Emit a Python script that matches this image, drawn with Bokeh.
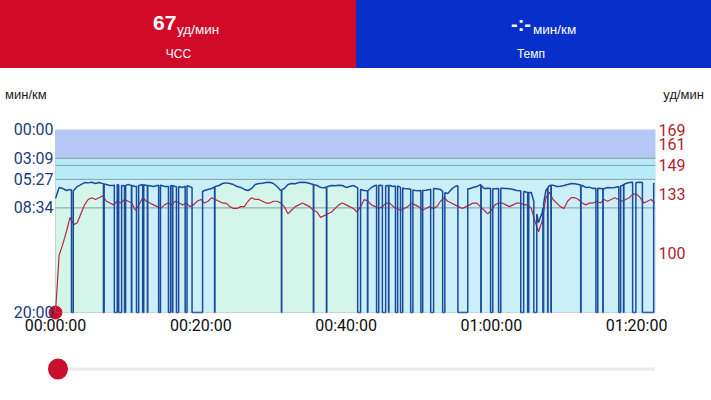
import numpy as np
from bokeh.plotting import figure
from bokeh.models import Range1d, LinearAxis, FixedTicker, BoxAnnotation, Div
from bokeh.layouts import column
from bokeh.embed import file_html
from bokeh.resources import INLINE

FONT = "Roboto"

# ---------------- data ----------------
current_hr = 67
hr_unit = "уд/мин"
pace_unit = "мин/км"
hr_label = "ЧСС"
pace_label = "Темп"
current_pace_text = "-:-"

duration_min = 82.6
hr_min, hr_max = 67, 169
pace_max = 1200  # seconds per km (20:00)

hr_step = 0.5  # minutes between heart-rate samples
hr_bpm = [67, 99, 105, 112, 120, 116, 117, 122, 127, 130,
          131, 130, 131, 132, 129, 128, 127, 129, 128, 130,
          129, 128, 124, 127, 131, 129, 128, 127, 126, 125,
          127, 128, 127, 129, 128, 127, 128, 126, 127, 129,
          130, 128, 129, 131, 130, 129, 128, 128, 126, 125,
          125, 126, 126, 129, 131, 130, 130, 129, 128, 128,
          129, 129, 128, 126, 122, 124, 126, 127, 128, 127,
          126, 124, 123, 120, 121, 122, 123, 125, 127, 128,
          127, 126, 125, 123, 126, 130, 129, 127, 126, 125,
          126, 128, 128, 126, 125, 124, 125, 126, 128, 127,
          126, 124, 125, 126, 125, 126, 129, 131, 129, 128,
          127, 126, 125, 126, 127, 128, 128, 126, 124, 122,
          124, 127, 128, 128, 127, 126, 127, 128, 128, 127,
          127, 125, 118, 112, 118, 131, 134, 130, 128, 126,
          125, 129, 131, 131, 130, 128, 127, 128, 128, 129,
          128, 130, 129, 130, 131, 130, 129, 130, 131, 133,
          133, 131, 128, 129, 130, 128]

pace_step = 0.5  # minutes between pace samples
pace_sec = [452, 380, 387, 400, 393, 400, 374, 361, 348, 350,
            346, 354, 348, 355, 361, 367, 365, 361, 367, 369,
            361, 367, 374, 367, 361, 367, 369, 374, 367, 365,
            374, 372, 367, 374, 376, 380, 367, 374, 387, 400,
            413, 400, 393, 387, 374, 367, 354, 350, 354, 361,
            374, 380, 393, 400, 387, 361, 354, 352, 348, 346,
            354, 374, 400, 387, 361, 354, 356, 348, 346, 348,
            354, 361, 367, 380, 382, 374, 367, 369, 365, 367,
            380, 374, 367, 380, 393, 400, 402, 380, 367, 365,
            367, 369, 367, 374, 367, 380, 387, 389, 393, 400,
            402, 400, 398, 393, 387, 389, 393, 413, 420, 393,
            374, 367, 380, 387, 389, 380, 374, 361, 387, 385,
            387, 389, 387, 385, 387, 389, 393, 400, 402, 407,
            413, 413, 498, 610, 544, 400, 367, 365, 374, 372,
            367, 361, 354, 356, 361, 367, 380, 378, 387, 385,
            387, 389, 380, 382, 380, 374, 367, 354, 348, 346,
            348, 346, 348, 354, 352, 354]

# pauses (pace drops to 20:00), start/end in minutes
pause_intervals = [(2.2, 2.45), (6.6, 6.7), (8.1, 8.5), (8.7, 9.1), (9.5, 9.65),
                   (10.45, 10.5), (11.15, 11.45), (12.0, 12.15), (12.65, 12.7),
                   (14.2, 14.45), (15.55, 15.85), (16.1, 16.15), (16.65, 16.95),
                   (17.85, 18.1), (18.8, 20.25), (21.9, 21.95), (31.1, 31.15),
                   (35.5, 35.55), (37.3, 37.35), (41.6, 42.0), (42.95, 43.0),
                   (44.2, 44.5), (45.0, 45.45), (45.85, 45.9), (46.8, 47.1),
                   (47.5, 47.8), (48.9, 49.2), (50.3, 50.55), (51.65, 52.05),
                   (53.3, 53.6), (55.4, 56.75), (58.55, 58.6), (59.9, 60.2),
                   (61.0, 61.3), (64.05, 64.45), (65.0, 65.15), (65.85, 66.25),
                   (67.1, 67.2), (67.75, 67.8), (68.2, 68.25), (72.3, 72.35),
                   (74.4, 74.65), (75.35, 75.4), (77.55, 77.8), (78.2, 78.25),
                   (79.45, 79.9), (80.8, 82.35)]
steady_intervals = [(0.0, 6.6), (21.9, 41.6)]

pace_ticks = [0, 189, 327, 514, 1200]
pace_zone_bounds = [189, 327, 514]
hr_ticks = [100, 133, 149, 161, 169]
hr_zone_bounds = [149]
time_ticks = [0, 20, 40, 60, 80]
slider_pos_min = 0.0

# ---------------- colours / layout ----------------
RED = "#d10a28"
BLUE = "#0630c9"
ZONE_TOP = "#b4c7f5"
ZONE_MID = "#b6ecf8"
ZONE_LOW = "#caeff9"
MINT = "#d4f6ea"
PACE_C = "#1d4b9b"
HR_C = "#b8283a"
GRID_C = "#8a9aa4"
DOT_C = "#c8102e"

W = 711
HEAD_H, MAIN_H, SLIDE_H = 110, 235, 55
BOX_L, BOX_R = 55, 655          # chart box, page pixels
BOX_T, BOX_B = 129, 312
PAD = 11                         # extra frame room so the corner marker is not cut
box_w, box_h = BOX_R - BOX_L, BOX_B - BOX_T

# ---------------- header (inline svg) ----------------
half = 356


def svg_text(x, y, s, size, color="white", anchor="start", weight="normal"):
    return (f'<text x="{x}" y="{y}" font-family="{FONT}" font-size="{size}" '
            f'font-weight="{weight}" fill="{color}" text-anchor="{anchor}">{s}</text>')


head = [f'<svg xmlns="http://www.w3.org/2000/svg" width="{W}" height="{HEAD_H}" '
        f'style="display:block">',
        f'<rect x="0" y="0" width="{half}" height="68" fill="{RED}"/>',
        f'<rect x="{half}" y="0" width="{W - half}" height="68" fill="{BLUE}"/>',
        svg_text(153, 30, str(current_hr), 21, weight="bold"),
        svg_text(177, 34, hr_unit, 13.5),
        svg_text(178.5, 57.5, hr_label, 12, anchor="middle"),
        svg_text(511, 31, current_pace_text, 20, weight="bold"),
        svg_text(533, 34, pace_unit, 13.5),
        svg_text(531, 57.5, pace_label, 12, anchor="middle"),
        svg_text(5, 99, pace_unit, 13, color="#1a1a1a"),
        svg_text(704, 99, hr_unit, 13, color="#1a1a1a", anchor="end"),
        '</svg>']
header = Div(text="".join(head), width=W, height=HEAD_H, margin=0)

# ---------------- main chart ----------------
pad_x = PAD * duration_min / box_w
pad_pace = PAD * pace_max / box_h
pad_hr = PAD * (hr_max - hr_min) / box_h

p = figure(width=W, height=MAIN_H, x_range=Range1d(-pad_x, duration_min),
           y_range=Range1d(pace_max + pad_pace, 0), output_backend="svg",
           toolbar_location=None, min_border_left=BOX_L - PAD, min_border_right=W - BOX_R,
           min_border_top=BOX_T - HEAD_H,
           min_border_bottom=HEAD_H + MAIN_H - BOX_B - PAD, margin=0)
p.extra_y_ranges = {"hr": Range1d(hr_min - pad_hr, hr_max)}
p.xgrid.visible = False
p.ygrid.visible = False
p.outline_line_color = None
p.background_fill_color = "white"
p.border_fill_color = "white"

bands = [0] + pace_zone_bounds[:2] + [pace_max]
band_colors = [ZONE_TOP, ZONE_MID, ZONE_LOW]
for i, c in enumerate(band_colors):
    p.add_layout(BoxAnnotation(left=0, right=duration_min, top=bands[i], bottom=bands[i + 1],
                               fill_color=c, fill_alpha=1.0, line_alpha=0, level="underlay"))

pace_times = np.arange(len(pace_sec)) * pace_step
base = np.array(pace_sec, dtype=float)

for s, e in steady_intervals:
    m = (pace_times > s) & (pace_times < e)
    xs = [s] + list(pace_times[m]) + [e]
    ys = ([float(np.interp(s, pace_times, base))] + list(base[m]) +
          [float(np.interp(e, pace_times, base))])
    p.varea(x=xs, y1=ys, y2=pace_max, fill_color=MINT)

n = len(pace_zone_bounds)
p.segment(x0=[0] * n, x1=[duration_min] * n, y0=pace_zone_bounds, y1=pace_zone_bounds,
          line_color=GRID_C, line_width=1)
p.segment(x0=[0], x1=[duration_min], y0=hr_zone_bounds, y1=hr_zone_bounds,
          line_color=GRID_C, line_width=1, y_range_name="hr")

hr_times = np.arange(len(hr_bpm)) * hr_step
p.line(x=hr_times, y=hr_bpm, line_color=HR_C, line_width=1.2, y_range_name="hr")

pts = []
for t, v in zip(pace_times, base):
    if not any(s <= t <= e for s, e in pause_intervals):
        pts.append((float(t), 0, float(v)))
for s, e in pause_intervals:
    pts += [(s, 0, float(np.interp(s, pace_times, base))), (s, 1, pace_max),
            (e, 2, pace_max), (e, 3, float(np.interp(e, pace_times, base)))]
pts.sort(key=lambda r: (r[0], r[1]))
p.line(x=[r[0] for r in pts], y=[r[2] for r in pts], line_color=PACE_C, line_width=1.5)

# chart box outline
p.add_layout(BoxAnnotation(left=0, right=duration_min, top=0, bottom=pace_max,
                           fill_alpha=0, line_color="#7d8d98", line_width=1, level="overlay"))

# current-position marker
p.scatter(x=[hr_times[0]], y=[hr_bpm[0]], size=13, fill_color=DOT_C, line_color=DOT_C,
          y_range_name="hr")

left = p.yaxis[0]
left.ticker = FixedTicker(ticks=pace_ticks)
left.major_label_overrides = {t: f"{t // 60:02d}:{t % 60:02d}" for t in pace_ticks}
right = LinearAxis(y_range_name="hr", ticker=FixedTicker(ticks=hr_ticks))
p.add_layout(right, "right")
p.xaxis.ticker = FixedTicker(ticks=time_ticks)
p.xaxis.major_label_overrides = {t: f"{t // 60:02d}:{t % 60:02d}:00" for t in time_ticks}

for ax, col, so in [(left, "#1c3b78", -(PAD - 2)), (right, "#b21f2d", 3),
                    (p.xaxis[0], "#0d0d0d", -8)]:
    ax.axis_line_color = None
    ax.major_tick_line_color = None
    ax.minor_tick_line_color = None
    ax.major_tick_out = 0
    ax.major_tick_in = 0
    ax.minor_tick_out = 0
    ax.major_label_text_font = FONT
    ax.major_label_text_font_size = "16px"
    ax.major_label_text_color = col
    ax.major_label_standoff = so

# ---------------- slider (inline svg) ----------------
knob_x = BOX_L + 3 + box_w * slider_pos_min / duration_min
knob_y = 369 - HEAD_H - MAIN_H
slider_svg = (f'<svg xmlns="http://www.w3.org/2000/svg" width="{W}" height="{SLIDE_H}" '
              f'style="display:block">'
              f'<line x1="{knob_x}" y1="{knob_y}" x2="{BOX_R}" y2="{knob_y}" '
              f'stroke="#ece8ea" stroke-width="3"/>'
              f'<ellipse cx="{knob_x}" cy="{knob_y}" rx="10" ry="10.5" fill="{DOT_C}"/></svg>')
slider = Div(text=slider_svg, width=W, height=SLIDE_H, margin=0)

layout = column(header, p, slider, spacing=0)
open("out.html", "w").write(file_html(layout, INLINE))
